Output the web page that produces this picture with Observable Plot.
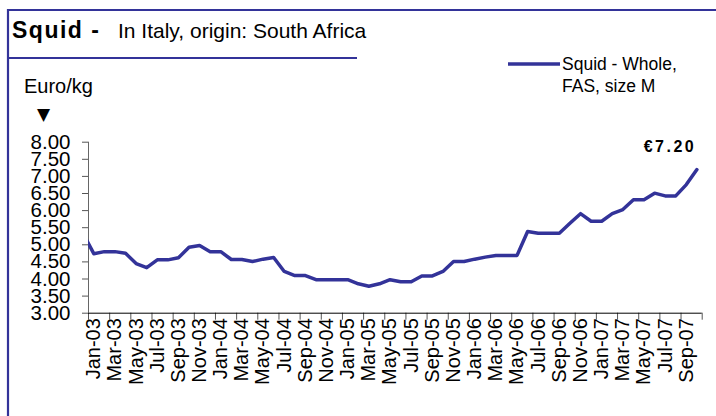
<!DOCTYPE html>
<html><head><meta charset="utf-8">
<script src="https://cdn.jsdelivr.net/npm/d3@7"></script>
<script src="https://cdn.jsdelivr.net/npm/@observablehq/plot@0.6"></script>
<style>
body{margin:0;background:#fff;font-family:"Liberation Sans",Arial,sans-serif;}
#wrap{position:relative;width:716px;height:416px;overflow:hidden;background:#fff;}
#wrap svg{position:absolute;left:0;top:0;}
#overlay{pointer-events:none;}
</style>
</head><body>
<div id="wrap"></div>
<script>
const months = [
  "Jan-03","Feb-03","Mar-03","Apr-03","May-03","Jun-03","Jul-03","Aug-03","Sep-03","Oct-03","Nov-03","Dec-03",
  "Jan-04","Feb-04","Mar-04","Apr-04","May-04","Jun-04","Jul-04","Aug-04","Sep-04","Oct-04","Nov-04","Dec-04",
  "Jan-05","Feb-05","Mar-05","Apr-05","May-05","Jun-05","Jul-05","Aug-05","Sep-05","Oct-05","Nov-05","Dec-05",
  "Jan-06","Feb-06","Mar-06","Apr-06","May-06","Jun-06","Jul-06","Aug-06","Sep-06","Oct-06","Nov-06","Dec-06",
  "Jan-07","Feb-07","Mar-07","Apr-07","May-07","Jun-07","Jul-07","Aug-07","Sep-07","Oct-07"
];
const prices = [
  4.74, 4.80, 4.80, 4.75, 4.45, 4.33, 4.56, 4.56, 4.62, 4.93, 4.98, 4.80,
  4.80, 4.57, 4.57, 4.51, 4.58, 4.63, 4.22, 4.10, 4.10, 3.98, 3.98, 3.98,
  3.98, 3.86, 3.79, 3.86, 3.98, 3.92, 3.92, 4.09, 4.09, 4.22, 4.51, 4.51,
  4.58, 4.64, 4.69, 4.69, 4.69, 5.39, 5.34, 5.34, 5.34, 5.63, 5.91, 5.69,
  5.69, 5.91, 6.03, 6.32, 6.32, 6.51, 6.43, 6.43, 6.76, 7.20
];
// previous month (cut off by the plot edge in the original)
const priorMonth = "Dec-02";
const priorPrice = 5.32;
const tickLabels = [
  "Jan-03","Mar-03","May-03","Jul-03","Sep-03","Nov-03",
  "Jan-04","Mar-04","May-04","Jul-04","Sep-04","Nov-04",
  "Jan-05","Mar-05","May-05","Jul-05","Sep-05","Nov-05",
  "Jan-06","Mar-06","May-06","Jul-06","Sep-06","Nov-06",
  "Jan-07","Mar-07","May-07","Jul-07","Sep-07"
];
const yTicks = [3.00, 3.50, 4.00, 4.50, 5.00, 5.50, 6.00, 6.50, 7.00, 7.50, 8.00];
const seriesName = ["Squid - Whole,", "FAS, size M"];

const data = months.map((m, i) => ({i, m, v: prices[i]}));
const lineData = [{i: -1, m: priorMonth, v: priorPrice}, ...data];
const boundaries = d3.range(-0.5, months.length, 2);
const last = data[data.length - 1];

const chart = Plot.plot({
  width: 716, height: 416,
  marginLeft: 88, marginRight: 14.3, marginTop: 141.7, marginBottom: 103.3,
  style: {fontFamily: "'Liberation Sans', Arial, sans-serif", background: "transparent", color: "#000"},
  x: {type: "linear", domain: [-0.5, months.length - 0.5]},
  y: {domain: [3, 8]},
  marks: [
    Plot.axisY({ticks: yTicks, tickFormat: d => d.toFixed(2), tickSize: 6, tickPadding: 12, fontSize: 20.5, label: null, stroke: "#555"}),
    Plot.axisX({ticks: boundaries, tickSize: 7, tickFormat: () => "", label: null, stroke: "#555"}),
    Plot.axisX({ticks: tickLabels.map(l => months.indexOf(l)), tickSize: 0, tickPadding: 5, tickRotate: -90, tickFormat: i => months[i], fontSize: 20, label: null}),
    Plot.ruleX([-0.5], {stroke: "#666"}),
    Plot.ruleY([3], {stroke: "#000"}),
    Plot.line(lineData, {x: "i", y: "v", stroke: "#333399", strokeWidth: 3.5, clip: true}),
    Plot.text([last], {x: "i", y: "v", text: d => "€" + d.v.toFixed(2), dx: -27, dy: -23, fontWeight: "bold", fontSize: 16})
  ]
});
d3.select(chart).selectAll("g[aria-label=text] text").attr("letter-spacing", "2.5px");
const wrap = document.getElementById("wrap");
wrap.appendChild(chart);

const ns = "http://www.w3.org/2000/svg";
const ov = d3.select(wrap).append("svg").attr("id", "overlay").attr("width", 716).attr("height", 416)
  .attr("font-family", "'Liberation Sans', Arial, sans-serif");
ov.append("path").attr("d", "M8,420V10H720").attr("fill", "none").attr("stroke", "#333399").attr("stroke-width", 2.2);
ov.append("line").attr("x1", 8).attr("x2", 357).attr("y1", 58).attr("y2", 58).attr("stroke", "#333399").attr("stroke-width", 2.2);
ov.append("text").attr("x", 12).attr("y", 38).attr("font-size", 23).attr("font-weight", "bold").attr("letter-spacing", "1.5px").text("Squid -");
ov.append("text").attr("x", 118).attr("y", 38).attr("font-size", 21).text("In Italy, origin: South Africa");
ov.append("text").attr("x", 24).attr("y", 93).attr("font-size", 20).text("Euro/kg");
ov.append("text").attr("x", 43.5).attr("y", 120).attr("font-size", 17).attr("text-anchor", "middle").attr("font-family", "DejaVu Sans").text("▼");
ov.append("line").attr("x1", 508).attr("x2", 560).attr("y1", 64).attr("y2", 64).attr("stroke", "#333399").attr("stroke-width", 3.5);
ov.append("text").attr("x", 562).attr("y", 69.5).attr("font-size", 17.5).text(seriesName[0]);
ov.append("text").attr("x", 562).attr("y", 92).attr("font-size", 17.5).text(seriesName[1]);
</script>
</body></html>
